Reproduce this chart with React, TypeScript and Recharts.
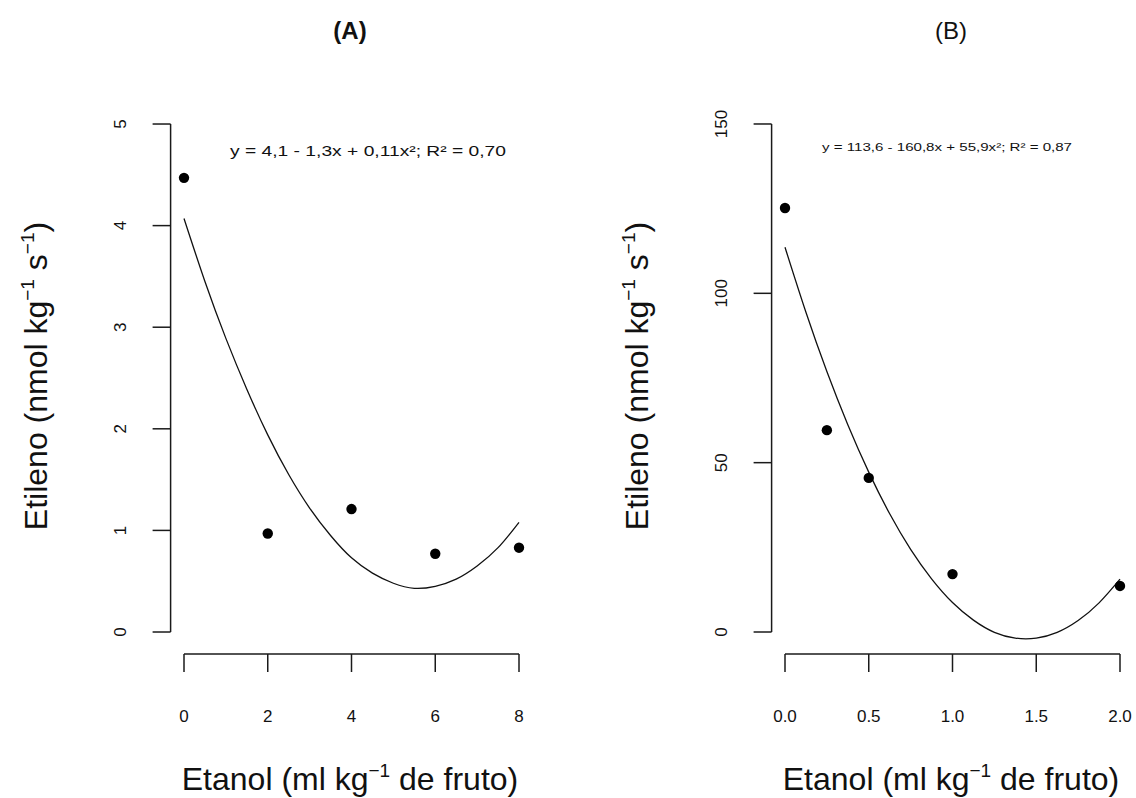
import React from 'react';
import { ComposedChart, Line, Scatter, XAxis, YAxis, ReferenceLine } from 'recharts';

// Panel A data
const xTicksA = [0, 2, 4, 6, 8];
const yTicksA = [0, 1, 2, 3, 4, 5];
const pointsAx = [0, 2, 4, 6, 8];
const pointsAy = [4.47, 0.97, 1.21, 0.77, 0.83];
const curveAx = [0, 0.5, 1, 1.5, 2, 2.5, 3, 3.5, 4, 4.5, 5, 5.5, 6, 6.5, 7, 7.5, 8];
const curveAy = [4.07, 3.45, 2.89, 2.39, 1.94, 1.55, 1.22, 0.95, 0.73, 0.58, 0.48, 0.43, 0.45, 0.52, 0.65, 0.83, 1.08];

// Panel B data
const xTicksB = [0, 0.5, 1, 1.5, 2];
const yTicksB = [0, 50, 100, 150];
const pointsBx = [0, 0.25, 0.5, 1, 2];
const pointsBy = [125.2, 59.6, 45.5, 17.1, 13.6];
const curveBx = [0, 0.125, 0.25, 0.375, 0.5, 0.625, 0.75, 0.875, 1, 1.125, 1.25, 1.375, 1.5, 1.625, 1.75, 1.875, 2];
const curveBy = [113.6, 94.4, 76.9, 61.2, 47.2, 34.9, 24.4, 15.7, 8.7, 3.5, -0.1, -1.8, -1.8, -0.1, 3.4, 8.6, 15.6];

const titleA = '(A)';
const titleB = '(B)';
const eqA = 'y = 4,1 - 1,3x + 0,11x²; R² = 0,70';
const eqB = 'y = 113,6 - 160,8x + 55,9x²; R² = 0,87';

const FONT = '"Liberation Sans", Arial, Helvetica, sans-serif';
const AXIS = '#1a1a1a';

const zip = (xs: number[], ys: number[]) => xs.map((x, i) => ({ x, y: ys[i] }));

const dataPointsA = zip(pointsAx, pointsAy);
const dataCurveA = zip(curveAx, curveAy);
const dataPointsB = zip(pointsBx, pointsBy);
const dataCurveB = zip(curveBx, curveBy);

const makeXTick = (fmt: (v: number) => string) => (p: any) => (
  <text x={p.x} y={p.y + 48} textAnchor="middle" fontSize={17} fontFamily={FONT} fill="#111">
    {fmt(p.payload.value)}
  </text>
);

const makeYTick = (fmt: (v: number) => string) => (p: any) => {
  const bx = p.x - 24.5;
  return (
    <text
      x={bx}
      y={p.y}
      textAnchor="middle"
      fontSize={17}
      fontFamily={FONT}
      fill="#111"
      transform={`rotate(-90 ${bx} ${p.y})`}
    >
      {fmt(p.payload.value)}
    </text>
  );
};

const Dot = (p: any) => <circle cx={p.cx} cy={p.cy} r={5.2} fill="#000" />;

type PanelProps = {
  left: number;
  width: number;
  marginLeft: number;
  marginRight: number;
  xDomain: [number, number];
  yDomain: [number, number];
  xTicks: number[];
  yTicks: number[];
  points: { x: number; y: number }[];
  curve: { x: number; y: number }[];
  xFmt: (v: number) => string;
  yFmt: (v: number) => string;
};

const Panel = (pp: PanelProps) => {
  const xMin = pp.xDomain[0];
  const yMin = pp.yDomain[0];
  const xT0 = pp.xTicks[0];
  const xT1 = pp.xTicks[pp.xTicks.length - 1];
  const yT0 = pp.yTicks[0];
  const yT1 = pp.yTicks[pp.yTicks.length - 1];
  return (
    <div style={{ position: 'absolute', left: pp.left, top: 0 }}>
      <ComposedChart
        width={pp.width}
        height={798}
        margin={{ top: 104, right: pp.marginRight, bottom: 64, left: pp.marginLeft }}
      >
        <XAxis
          type="number"
          dataKey="x"
          domain={pp.xDomain}
          ticks={pp.xTicks}
          allowDataOverflow
          axisLine={false}
          tickLine={{ stroke: AXIS, strokeWidth: 1.5 }}
          tickSize={18}
          height={80}
          tick={makeXTick(pp.xFmt)}
          interval={0}
        />
        <YAxis
          type="number"
          dataKey="y"
          domain={pp.yDomain}
          ticks={pp.yTicks}
          allowDataOverflow
          axisLine={false}
          tickLine={{ stroke: AXIS, strokeWidth: 1.5 }}
          tickSize={18}
          width={80}
          tick={makeYTick(pp.yFmt)}
          interval={0}
        />
        <ReferenceLine
          segment={[{ x: xT0, y: yMin }, { x: xT1, y: yMin }]}
          stroke={AXIS}
          strokeWidth={1.5}
          ifOverflow="visible"
        />
        <ReferenceLine
          segment={[{ x: xMin, y: yT0 }, { x: xMin, y: yT1 }]}
          stroke={AXIS}
          strokeWidth={1.5}
          ifOverflow="visible"
        />
        <Line
          data={pp.curve}
          dataKey="y"
          type="natural"
          stroke="#111"
          strokeWidth={1.3}
          dot={false}
          activeDot={false}
          isAnimationActive={false}
        />
        <Scatter data={pp.points} dataKey="y" shape={Dot} isAnimationActive={false} />
      </ComposedChart>
    </div>
  );
};

const SUP_DY = 13;
const SUP_FS = 19;

export default function App() {
  return (
    <div style={{ position: 'absolute', left: 0, top: 0, width: 1136, height: 798, background: '#fff' }}>
      <Panel
        left={0}
        width={560}
        marginLeft={90.6}
        marginRight={27.6}
        xDomain={[-0.32, 8.32]}
        yDomain={[-0.2165, 5.197]}
        xTicks={xTicksA}
        yTicks={yTicksA}
        points={dataPointsA}
        curve={dataCurveA}
        xFmt={(v) => String(v)}
        yFmt={(v) => String(v)}
      />
      <Panel
        left={560}
        width={576}
        marginLeft={131.6}
        marginRight={2.6}
        xDomain={[-0.08, 2.08]}
        yDomain={[-6.496, 155.9]}
        xTicks={xTicksB}
        yTicks={yTicksB}
        points={dataPointsB}
        curve={dataCurveB}
        xFmt={(v) => v.toFixed(1)}
        yFmt={(v) => String(v)}
      />
      <svg
        width={1136}
        height={798}
        style={{ position: 'absolute', left: 0, top: 0, pointerEvents: 'none' }}
        fontFamily={FONT}
      >
        <text x={350} y={39} textAnchor="middle" fontSize={24} fontWeight="bold" fill="#111">{titleA}</text>
        <text x={951} y={39} textAnchor="middle" fontSize={24} fill="#111">{titleB}</text>
        <text x={368} y={156} textAnchor="middle" fontSize={14} fill="#111" textLength={276} lengthAdjust="spacingAndGlyphs">{eqA}</text>
        <text x={947} y={151} textAnchor="middle" fontSize={11.5} fill="#111" textLength={250} lengthAdjust="spacingAndGlyphs">{eqB}</text>

        {[350, 951].map((cx) => (
          <text key={cx} x={cx} y={790} textAnchor="middle" fontSize={32} fill="#111">
            Etanol (ml kg
            <tspan dy={-SUP_DY} fontSize={SUP_FS}>−1</tspan>
            <tspan dy={SUP_DY}> de fruto)</tspan>
          </text>
        ))}

        {[47, 648].map((bx) => (
          <text key={bx} x={bx} y={376} textAnchor="middle" fontSize={32} fill="#111" transform={`rotate(-90 ${bx} 376)`}>
            Etileno (nmol kg
            <tspan dy={-SUP_DY} fontSize={SUP_FS}>−1</tspan>
            <tspan dy={SUP_DY}> s</tspan>
            <tspan dy={-SUP_DY} fontSize={SUP_FS}>−1</tspan>
            <tspan dy={SUP_DY}>)</tspan>
          </text>
        ))}
      </svg>
    </div>
  );
}
